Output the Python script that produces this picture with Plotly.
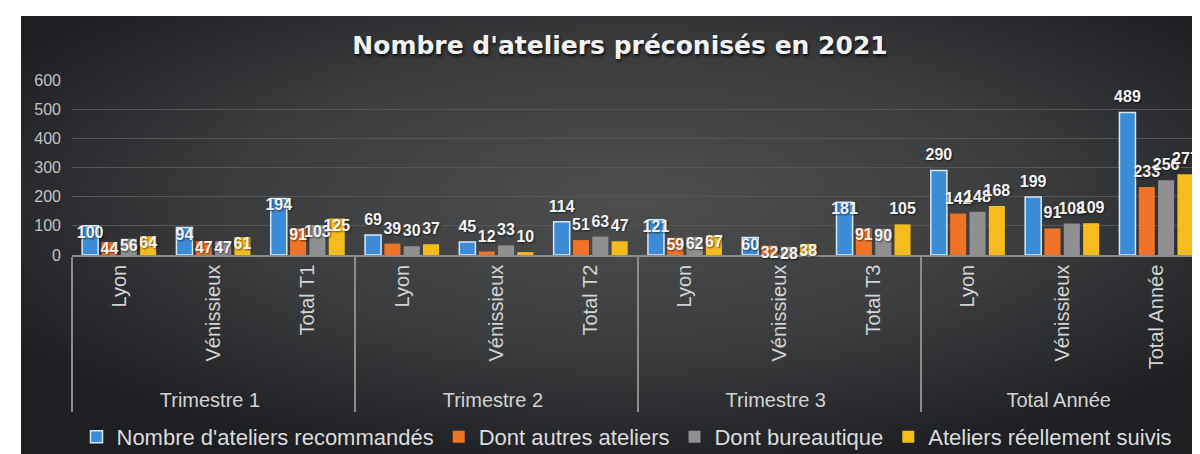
import base64
import plotly.graph_objects as go

groups = ["Trimestre 1", "Trimestre 2", "Trimestre 3", "Total Année"]
sub_labels = [
    ["Lyon", "Vénissieux", "Total T1"],
    ["Lyon", "Vénissieux", "Total T2"],
    ["Lyon", "Vénissieux", "Total T3"],
    ["Lyon", "Vénissieux", "Total Année"],
]
series_names = [
    "Nombre d'ateliers recommandés",
    "Dont autres ateliers",
    "Dont bureautique",
    "Ateliers réellement suivis",
]
recommandes = [100, 94, 194, 69, 45, 114, 121, 60, 181, 290, 199, 489]
autres = [44, 47, 91, 39, 12, 51, 59, 32, 91, 142, 91, 233]
bureautique = [56, 47, 103, 30, 33, 63, 62, 28, 90, 148, 108, 256]
suivis = [64, 61, 125, 37, 10, 47, 67, 38, 105, 168, 109, 277]
title_text = "Nombre d'ateliers préconisés en 2021"

outer = [g for g, subs in zip(groups, sub_labels) for _ in subs]
inner = [s for subs in sub_labels for s in subs]
x_mc = [outer, inner]

colors = ["#3b8bd6", "#f07428", "#8f9092", "#f6bb1c"]
lines = [dict(color="#d6e8f7", width=1.5), dict(width=0), dict(width=0), dict(width=0)]
values = [recommandes, autres, bureautique, suivis]

# label placement style (as in the original: labels hang from the bar top in T1 / T3)
hanging_groups = {"Trimestre 1", "Trimestre 3"}
above_exceptions = {(3, "Trimestre 3", "Total T3")}

GAP = 0.18
label_font = dict(family="Liberation Sans, Arial", size=16, color="#f4f4f4", weight="bold",
                  shadow="1px 1px 2px rgba(0,0,0,0.6)")

fig = go.Figure()
for si, (name, vals, col, ln) in enumerate(zip(series_names, values, colors, lines)):
    fig.add_trace(go.Bar(
        x=x_mc, y=vals, name=name,
        marker=dict(color=col, line=ln),
        hoverinfo="x+y+name",
    ))
for si, (name, vals) in enumerate(zip(series_names, values)):
    positions, msizes = [], []
    for g, s in zip(outer, inner):
        if g in hanging_groups and (si, g, s) not in above_exceptions:
            positions.append("bottom center")
            msizes.append(0)
        else:
            positions.append("top center")
            msizes.append(8)
    fig.add_trace(go.Scatter(
        x=x_mc, y=vals, mode="markers+text", name=name, showlegend=False,
        text=[str(v) for v in vals], textposition=positions, textfont=label_font,
        marker=dict(size=msizes, color="rgba(0,0,0,0)", line=dict(width=0)),
        cliponaxis=False, hoverinfo="skip",
    ))

# page offset (browser body margin)
OFF = 8
W, H = 1200 - OFF, 454 - OFF
ml, mr, mt = 72 - OFF, 0, 80 - OFF
mb = H - (255 - OFF)
pw, ph = W - ml - mr, H - mt - mb

# background gradient (svg)
bx0, by0 = 21 - OFF, 16 - OFF
bw, bh = W - bx0, H - by0
svg = f"""<svg xmlns='http://www.w3.org/2000/svg' width='{bw}' height='{bh}' viewBox='0 0 {bw} {bh}' preserveAspectRatio='none'>
<defs><radialGradient id='g' cx='52%' cy='42%' r='62%'>
<stop offset='0' stop-color='#4c4e50'/><stop offset='0.55' stop-color='#3a3c3e'/><stop offset='1' stop-color='#1d1f22'/>
</radialGradient></defs>
<rect width='{bw}' height='{bh}' fill='url(#g)'/></svg>"""
src = "data:image/svg+xml;base64," + base64.b64encode(svg.encode()).decode()
fig.add_layout_image(dict(
    source=src, xref="paper", yref="paper",
    x=(bx0 - ml) / pw, y=(H - mb - by0) / ph,
    sizex=bw / pw, sizey=bh / ph,
    xanchor="left", yanchor="top", sizing="stretch", layer="below",
))

cat_w = 94.3
fig.update_layout(
    width=W, height=H,
    margin=dict(l=ml, r=mr, t=mt, b=mb),
    paper_bgcolor="white", plot_bgcolor="rgba(0,0,0,0)",
    barmode="group", bargap=GAP, bargroupgap=0.17,
    scattermode="group", scattergap=GAP,
    title=dict(text=title_text, x=(620 - OFF) / W, xanchor="center",
               y=1 - (45 - OFF) / H, yanchor="middle",
               font=dict(family="DejaVu Sans", size=25, color="#f2f2f2", weight="bold",
                         shadow="1px 2px 3px rgba(0,0,0,0.8)")),
    legend=dict(orientation="h", xref="container", yref="container",
                x=(627 - OFF) / W, xanchor="center", y=(H - (437 - OFF)) / H, yanchor="middle",
                font=dict(family="Liberation Sans, Arial", size=22, color="#dcdcdc"),
                itemwidth=30, traceorder="normal", bgcolor="rgba(0,0,0,0)"),
    font=dict(family="Liberation Sans, Arial", color="#d0d0d0"),
    showlegend=True,
)
fig.update_yaxes(range=[0, 600], dtick=100, showgrid=True, gridcolor="#545658", gridwidth=1,
                 zeroline=False, showline=False, layer="below traces",
                 tickfont=dict(size=16, color="#c4c4c4"), ticklabelstandoff=10)
fig.update_xaxes(type="multicategory", range=[-0.5, -0.5 + pw / cat_w],
                 showline=True, linecolor="#8c8c8c", linewidth=1.5, layer="below traces",
                 showdividers=True, dividercolor="#8c8c8c", dividerwidth=1.5,
                 tickangle=-90, tickfont=dict(size=20, color="#d4d4d4"),
                 ticks="", showgrid=False)

fig.write_html("out.html")
